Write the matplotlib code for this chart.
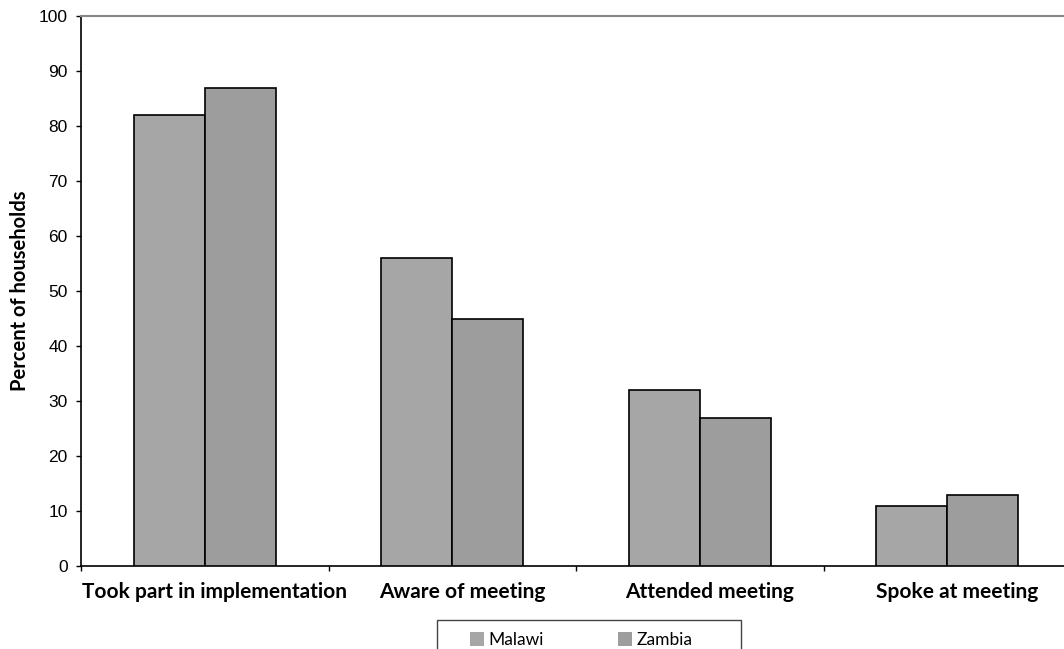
import matplotlib
matplotlib.use("Agg")
import matplotlib.pyplot as plt
from matplotlib.patches import Rectangle
import numpy as np

categories = ["Took part in implementation", "Aware of meeting", "Attended meeting", "Spoke at meeting"]
malawi = [82, 56, 32, 11]
zambia = [87, 45, 27, 13]
series_names = ["Malawi", "Zambia"]
y_ticks = [0, 10, 20, 30, 40, 50, 60, 70, 80, 90, 100]

W, H = 1064, 649
fig = plt.figure(figsize=(W / 100, H / 100), dpi=100)
left_px, right_px, top_px, bottom_px = 81, 1071, 16, 566
ax = fig.add_axes([left_px / W, (H - bottom_px) / H,
                   (right_px - left_px) / W, (bottom_px - top_px) / H])

x = np.arange(len(categories))
bw = 0.287
ax.bar(x - bw / 2, malawi, bw, color="#a6a6a6", edgecolor="black", linewidth=1.2,
       label=series_names[0], zorder=3)
ax.bar(x + bw / 2, zambia, bw, color="#9d9d9d", edgecolor="black", linewidth=1.2,
       label=series_names[1], zorder=3)

ax.set_xlim(-0.5, len(categories) - 0.5)
ax.set_ylim(0, 100)
ax.set_yticks(y_ticks)
ax.set_yticklabels([str(v) for v in y_ticks], fontsize=12.5, family="Liberation Sans")
ax.tick_params(axis="y", direction="out", length=3.6, width=1, pad=6, color="black")

# category boundaries carry the tick marks; labels sit at the centres
ax.set_xticks(np.arange(len(categories) + 1) - 0.5)
ax.set_xticklabels([])
ax.tick_params(axis="x", direction="out", length=3.6, width=1, color="black")
for i, c in enumerate(categories):
    ax.text(i + 0.04, -2.9, c, ha="center", va="top", fontsize=15, fontweight="bold",
            family="Lato", transform=ax.transData)

ax.set_ylabel("Percent of households", fontsize=14.5, fontweight="bold",
              family="Lato", labelpad=6)

ax.spines["right"].set_visible(False)
ax.spines["top"].set_color("#888888")
ax.spines["top"].set_linewidth(1.5)
ax.spines["left"].set_linewidth(1.2)
ax.spines["bottom"].set_linewidth(1.2)

# legend box, running off the bottom edge of the figure
box = Rectangle((437 / W, -0.05), (741 - 437) / W, 0.05 + 1 - 620 / H,
                transform=fig.transFigure, facecolor="white", edgecolor="#444444",
                linewidth=1.0, zorder=5)
fig.patches.append(box)

leg = fig.legend(loc="upper left", bbox_to_anchor=(470 / W, 1 - 632 / H), ncol=2,
                 frameon=False, handlelength=0.8, handleheight=0.8,
                 handletextpad=0.25, columnspacing=4.3, borderpad=0, borderaxespad=0,
                 prop={"family": "Lato", "size": 12.5})
leg.set_zorder(6)
for h in leg.legend_handles:
    h.set_edgecolor("none")

fig.savefig("out.png", dpi=100)
